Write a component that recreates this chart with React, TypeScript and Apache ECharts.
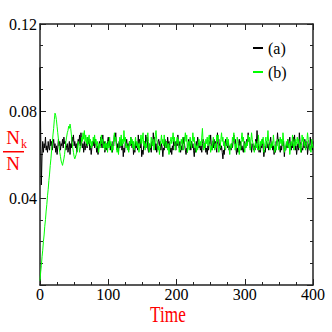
import React, { useEffect, useRef } from "react";
import * as echarts from "echarts";

const TIME_STEP = 1;
const seriesNames = ["(a)", "(b)"];
const seriesColors = ["#000000", "#00ff00"];

const xTickValues = [0, 100, 200, 300, 400];
const xTickLabels = ["0", "100", "200", "300", "400"];
const yTickValues = [0.04, 0.08, 0.12];
const yTickLabels = ["0.04", "0.08", "0.12"];

// (a) values at t = 0, 1, 2, ... 400
const seriesA = [
  0.100, 0.070, 0.046, 0.060, 0.066, 0.061, 0.065, 0.063, 0.068, 0.062, 0.064, 0.061, 0.066, 0.063, 0.062, 0.067, 0.064, 0.066, 0.062, 0.065,
  0.067, 0.063, 0.065, 0.061, 0.064, 0.060, 0.063, 0.067, 0.064, 0.066, 0.062, 0.065, 0.064, 0.067, 0.063, 0.068, 0.065, 0.066, 0.062, 0.064,
  0.065, 0.061, 0.063, 0.066, 0.060, 0.065, 0.063, 0.068, 0.066, 0.069, 0.064, 0.066, 0.063, 0.065, 0.061, 0.064, 0.067, 0.065, 0.069, 0.064,
  0.070, 0.066, 0.063, 0.065, 0.061, 0.066, 0.062, 0.064, 0.066, 0.063, 0.068, 0.065, 0.067, 0.062, 0.064, 0.060, 0.063, 0.066, 0.064, 0.067,
  0.063, 0.067, 0.065, 0.061, 0.064, 0.060, 0.063, 0.066, 0.064, 0.068, 0.065, 0.063, 0.069, 0.064, 0.066, 0.061, 0.063, 0.065, 0.062, 0.066,
  0.068, 0.064, 0.066, 0.062, 0.065, 0.063, 0.061, 0.066, 0.064, 0.069, 0.067, 0.070, 0.064, 0.062, 0.065, 0.061, 0.066, 0.063, 0.065, 0.067,
  0.062, 0.065, 0.059, 0.063, 0.061, 0.066, 0.064, 0.067, 0.063, 0.065, 0.062, 0.066, 0.064, 0.068, 0.065, 0.063, 0.066, 0.060, 0.063, 0.061,
  0.066, 0.063, 0.065, 0.062, 0.069, 0.065, 0.067, 0.063, 0.066, 0.059, 0.062, 0.060, 0.064, 0.066, 0.063, 0.069, 0.066, 0.068, 0.063, 0.061,
  0.065, 0.062, 0.064, 0.061, 0.066, 0.064, 0.070, 0.066, 0.068, 0.062, 0.065, 0.061, 0.063, 0.066, 0.067, 0.064, 0.066, 0.062, 0.065, 0.063,
  0.059, 0.063, 0.062, 0.067, 0.064, 0.066, 0.063, 0.068, 0.065, 0.066, 0.064, 0.061, 0.063, 0.060, 0.064, 0.062, 0.067, 0.064, 0.066, 0.062,
  0.066, 0.064, 0.069, 0.065, 0.063, 0.066, 0.061, 0.064, 0.062, 0.067, 0.065, 0.068, 0.064, 0.062, 0.060, 0.063, 0.061, 0.065, 0.067, 0.064,
  0.065, 0.062, 0.066, 0.063, 0.065, 0.062, 0.059, 0.063, 0.061, 0.066, 0.064, 0.068, 0.066, 0.063, 0.065, 0.062, 0.064, 0.061, 0.065, 0.067,
  0.066, 0.063, 0.065, 0.061, 0.063, 0.060, 0.064, 0.062, 0.066, 0.065, 0.069, 0.064, 0.062, 0.066, 0.063, 0.067, 0.064, 0.066, 0.063, 0.061,
  0.070, 0.065, 0.067, 0.063, 0.065, 0.062, 0.064, 0.061, 0.058, 0.062, 0.060, 0.065, 0.067, 0.064, 0.066, 0.063, 0.066, 0.062, 0.064, 0.063,
  0.062, 0.065, 0.063, 0.066, 0.069, 0.065, 0.067, 0.063, 0.060, 0.063, 0.061, 0.065, 0.067, 0.064, 0.066, 0.062, 0.064, 0.062, 0.061, 0.065,
  0.066, 0.063, 0.064, 0.067, 0.065, 0.070, 0.066, 0.068, 0.063, 0.065, 0.061, 0.064, 0.065, 0.062, 0.064, 0.062, 0.067, 0.065, 0.071, 0.066,
  0.064, 0.061, 0.063, 0.061, 0.065, 0.063, 0.067, 0.063, 0.059, 0.062, 0.061, 0.064, 0.066, 0.063, 0.065, 0.062, 0.064, 0.066, 0.068, 0.064,
  0.065, 0.062, 0.064, 0.060, 0.063, 0.061, 0.066, 0.064, 0.070, 0.066, 0.067, 0.063, 0.061, 0.064, 0.062, 0.066, 0.064, 0.066, 0.059, 0.063,
  0.062, 0.065, 0.063, 0.067, 0.064, 0.066, 0.068, 0.064, 0.062, 0.065, 0.063, 0.068, 0.066, 0.069, 0.062, 0.064, 0.060, 0.063, 0.065, 0.062,
  0.070, 0.066, 0.064, 0.061, 0.063, 0.062, 0.066, 0.063, 0.067, 0.065, 0.063, 0.066, 0.060, 0.063, 0.065, 0.062, 0.068, 0.065, 0.064, 0.062,
  0.066,
];

// (b) values at t = 0, 1, 2, ... 400
const seriesB = [
  0.002, 0.006, 0.009, 0.013, 0.016, 0.020, 0.023, 0.027, 0.030, 0.034, 0.037, 0.041, 0.044, 0.048, 0.051, 0.055, 0.058, 0.062, 0.065, 0.069,
  0.072, 0.076, 0.079, 0.078, 0.076, 0.073, 0.070, 0.067, 0.064, 0.061, 0.059, 0.057, 0.056, 0.055, 0.055, 0.058, 0.060, 0.063, 0.066, 0.068,
  0.070, 0.071, 0.073, 0.072, 0.074, 0.072, 0.069, 0.066, 0.063, 0.061, 0.059, 0.058, 0.058, 0.060, 0.062, 0.064, 0.066, 0.064, 0.061, 0.063,
  0.064, 0.068, 0.066, 0.070, 0.067, 0.071, 0.066, 0.069, 0.065, 0.068, 0.064, 0.067, 0.069, 0.065, 0.067, 0.063, 0.066, 0.064, 0.068, 0.066,
  0.069, 0.065, 0.067, 0.063, 0.066, 0.064, 0.061, 0.065, 0.063, 0.067, 0.069, 0.065, 0.067, 0.063, 0.065, 0.062, 0.066, 0.063, 0.065, 0.061,
  0.066, 0.063, 0.068, 0.064, 0.066, 0.061, 0.064, 0.062, 0.067, 0.070, 0.066, 0.068, 0.064, 0.061, 0.063, 0.060, 0.065, 0.068, 0.064, 0.069,
  0.064, 0.067, 0.065, 0.071, 0.066, 0.068, 0.063, 0.065, 0.062, 0.064, 0.061, 0.066, 0.064, 0.068, 0.065, 0.067, 0.063, 0.066, 0.062, 0.065,
  0.068, 0.064, 0.066, 0.063, 0.065, 0.061, 0.064, 0.066, 0.069, 0.065, 0.067, 0.070, 0.064, 0.066, 0.062, 0.065, 0.063, 0.068, 0.070, 0.066,
  0.061, 0.065, 0.063, 0.068, 0.066, 0.064, 0.067, 0.062, 0.066, 0.069, 0.071, 0.067, 0.065, 0.062, 0.064, 0.060, 0.064, 0.066, 0.069, 0.065,
  0.067, 0.064, 0.069, 0.065, 0.063, 0.066, 0.064, 0.062, 0.065, 0.060, 0.063, 0.066, 0.068, 0.065, 0.067, 0.070, 0.066, 0.068, 0.062, 0.064,
  0.066, 0.068, 0.065, 0.067, 0.061, 0.064, 0.062, 0.067, 0.065, 0.068, 0.062, 0.064, 0.067, 0.070, 0.066, 0.069, 0.061, 0.064, 0.066, 0.062,
  0.068, 0.065, 0.063, 0.066, 0.070, 0.066, 0.068, 0.063, 0.065, 0.061, 0.064, 0.062, 0.065, 0.067, 0.064, 0.066, 0.064, 0.068, 0.072, 0.066,
  0.062, 0.065, 0.063, 0.067, 0.065, 0.068, 0.064, 0.067, 0.069, 0.065, 0.061, 0.064, 0.062, 0.066, 0.068, 0.065, 0.062, 0.065, 0.063, 0.069,
  0.066, 0.069, 0.061, 0.064, 0.063, 0.067, 0.070, 0.066, 0.068, 0.064, 0.066, 0.063, 0.062, 0.065, 0.068, 0.064, 0.067, 0.063, 0.060, 0.064,
  0.065, 0.063, 0.068, 0.066, 0.070, 0.066, 0.062, 0.065, 0.063, 0.068, 0.066, 0.063, 0.060, 0.064, 0.062, 0.067, 0.070, 0.066, 0.068, 0.064,
  0.061, 0.065, 0.063, 0.066, 0.064, 0.069, 0.066, 0.068, 0.062, 0.066, 0.070, 0.067, 0.065, 0.063, 0.061, 0.064, 0.066, 0.063, 0.065, 0.062,
  0.069, 0.065, 0.062, 0.066, 0.064, 0.067, 0.065, 0.068, 0.061, 0.064, 0.066, 0.068, 0.063, 0.066, 0.071, 0.066, 0.064, 0.062, 0.065, 0.063,
  0.066, 0.064, 0.069, 0.065, 0.061, 0.064, 0.062, 0.066, 0.067, 0.064, 0.062, 0.065, 0.068, 0.065, 0.067, 0.064, 0.070, 0.066, 0.061, 0.064,
  0.062, 0.066, 0.064, 0.067, 0.063, 0.065, 0.060, 0.063, 0.066, 0.064, 0.069, 0.066, 0.062, 0.065, 0.067, 0.064, 0.066, 0.068, 0.065, 0.067,
  0.063, 0.065, 0.061, 0.064, 0.069, 0.066, 0.068, 0.064, 0.066, 0.062, 0.064, 0.066, 0.070, 0.067, 0.065, 0.062, 0.064, 0.061, 0.067, 0.065,
  0.063,
];

const X_MIN = 0;
const X_MAX = 400;
const X_INTERVAL = 100;
const Y_MIN = 0;
const Y_MAX = 0.12;
const Y_INTERVAL = 0.04;

export default function App() {
  const ref = useRef<HTMLDivElement>(null);

  useEffect(() => {
    document.body.style.margin = "0";
    const chart = echarts.init(ref.current!, null, { renderer: "svg" });
    const serif = "Liberation Serif";
    const axisColor = "#222";

    const baseX = {
      type: "value",
      min: X_MIN,
      max: X_MAX,
      interval: X_INTERVAL,
      splitLine: { show: false },
      axisLabel: { show: false },
      axisLine: { show: true, onZero: false, lineStyle: { color: axisColor, width: 1.5 } },
      axisTick: { show: true, inside: true, length: 6, lineStyle: { color: axisColor, width: 1 } },
      minorTick: { show: true, splitNumber: 4, length: 3, lineStyle: { color: axisColor, width: 1 } },
    };
    const baseY = {
      type: "value",
      min: Y_MIN,
      max: Y_MAX,
      interval: Y_INTERVAL,
      splitLine: { show: false },
      axisLabel: { show: false },
      axisLine: { show: true, onZero: false, lineStyle: { color: axisColor, width: 1.5 } },
      axisTick: { show: true, inside: true, length: 6, lineStyle: { color: axisColor, width: 1 } },
      minorTick: { show: true, splitNumber: 4, length: 3, lineStyle: { color: axisColor, width: 1 } },
    };

    const makeData = (vals: number[]) => vals.map((v, i) => [i * TIME_STEP, v]);

    const titleGraphics: any[] = [
      {
        type: "text",
        x: 168,
        y: 314,
        scaleX: 0.75,
        style: {
          text: "Time",
          fill: "#ff0000",
          font: `23px ${serif}`,
          textAlign: "center",
          textVerticalAlign: "middle",
        },
      },
      {
        type: "text",
        x: 13,
        y: 137,
        style: {
          text: "N",
          fill: "#ff0000",
          font: `19px ${serif}`,
          textAlign: "center",
          textVerticalAlign: "middle",
        },
      },
      {
        type: "text",
        x: 21,
        y: 144,
        style: {
          text: "k",
          fill: "#ff0000",
          font: `12px ${serif}`,
          textAlign: "left",
          textVerticalAlign: "middle",
        },
      },
      {
        type: "rect",
        shape: { x: 3, y: 151, width: 21, height: 1.5 },
        style: { fill: "#ff0000" },
      },
      {
        type: "text",
        x: 13,
        y: 163,
        style: {
          text: "N",
          fill: "#ff0000",
          font: `19px ${serif}`,
          textAlign: "center",
          textVerticalAlign: "middle",
        },
      },
    ];

    chart.setOption({
      animation: false,
      backgroundColor: "#ffffff",
      grid: { left: 40, right: 19, top: 24, bottom: 47, containLabel: false },
      legend: {
        orient: "vertical",
        left: 253,
        top: 40,
        padding: 0,
        itemWidth: 10,
        itemHeight: 2,
        itemGap: 8,
        icon: "rect",
        data: seriesNames,
        textStyle: { fontFamily: serif, fontSize: 16, color: "#000" },
      },
      xAxis: [
        { ...baseX, position: "bottom" },
        { ...baseX, position: "top" },
      ],
      yAxis: [
        { ...baseY, position: "left" },
        { ...baseY, position: "right" },
      ],
      graphic: titleGraphics,
      series: [
        {
          name: seriesNames[0],
          type: "line",
          xAxisIndex: 0,
          yAxisIndex: 0,
          data: makeData(seriesA),
          showSymbol: false,
          symbol: "none",
          color: seriesColors[0],
          lineStyle: { color: seriesColors[0], width: 1 },
        },
        {
          name: seriesNames[1],
          type: "line",
          xAxisIndex: 0,
          yAxisIndex: 0,
          data: makeData(seriesB),
          showSymbol: false,
          symbol: "none",
          color: seriesColors[1],
          lineStyle: { color: seriesColors[1], width: 1 },
        },
      ],
    });

    // Tick labels placed through the axes' own scales (serif font)
    const axisBottomY = chart.convertToPixel({ yAxisIndex: 0 }, Y_MIN) as number;
    const axisLeftX = chart.convertToPixel({ xAxisIndex: 0 }, X_MIN) as number;
    const tickGraphics: any[] = [];
    xTickValues.forEach((v, i) => {
      const px = chart.convertToPixel({ xAxisIndex: 0 }, v) as number;
      tickGraphics.push({
        type: "text",
        x: px,
        y: axisBottomY + 1,
        style: {
          text: xTickLabels[i],
          fill: "#000",
          font: `16px ${serif}`,
          textAlign: "center",
          textVerticalAlign: "top",
        },
      });
    });
    yTickValues.forEach((v, i) => {
      const py = chart.convertToPixel({ yAxisIndex: 0 }, v) as number;
      tickGraphics.push({
        type: "text",
        x: axisLeftX - 3,
        y: py,
        style: {
          text: yTickLabels[i],
          fill: "#000",
          font: `16px ${serif}`,
          textAlign: "right",
          textVerticalAlign: "middle",
        },
      });
    });

    if (tickGraphics.every((g) => isFinite(g.x) && isFinite(g.y))) {
      chart.setOption({ graphic: [...titleGraphics, ...tickGraphics] });
    }

    return () => chart.dispose();
  }, []);

  return (
    <div
      ref={ref}
      style={{ position: "absolute", left: 0, top: 0, width: 332, height: 332, background: "#fff" }}
    />
  );
}
